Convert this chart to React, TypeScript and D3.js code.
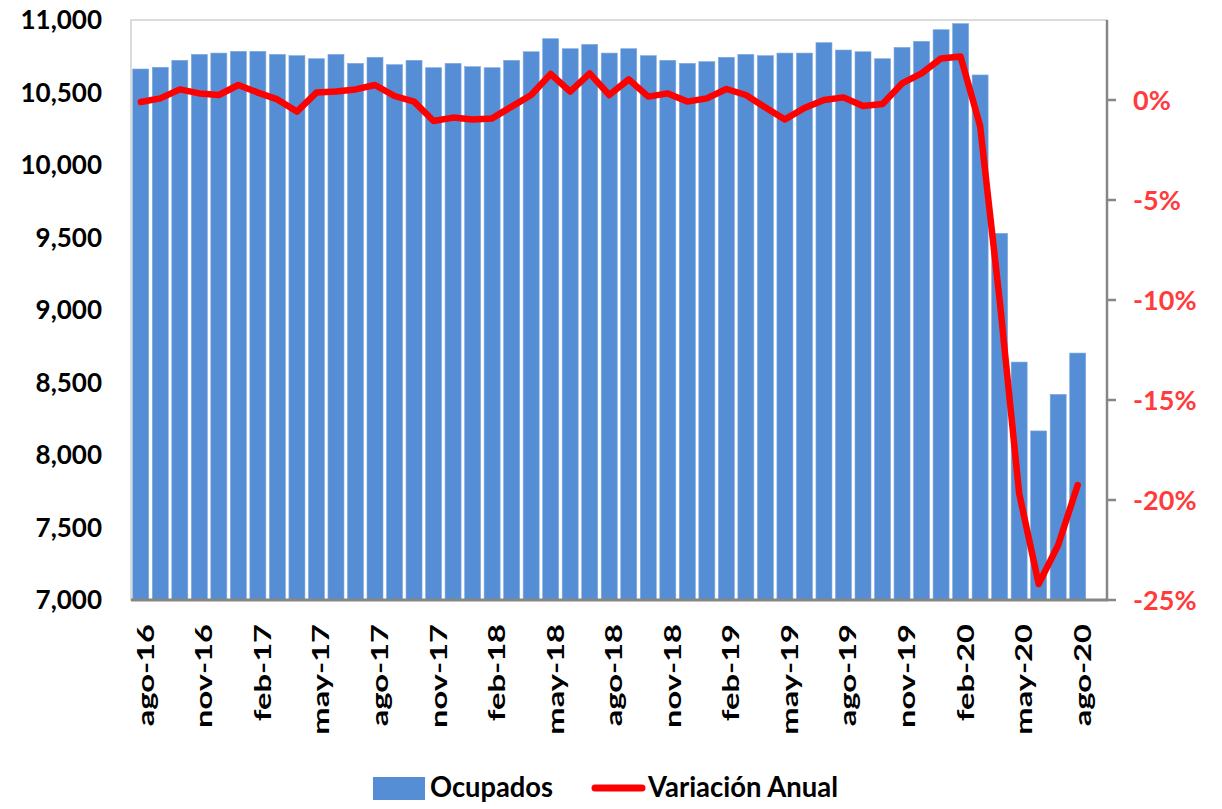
import React from "react";
import * as d3 from "d3";

const categories = [
  "ago-16","sep-16","oct-16","nov-16","dic-16","ene-17","feb-17","mar-17","abr-17","may-17","jun-17","jul-17",
  "ago-17","sep-17","oct-17","nov-17","dic-17","ene-18","feb-18","mar-18","abr-18","may-18","jun-18","jul-18",
  "ago-18","sep-18","oct-18","nov-18","dic-18","ene-19","feb-19","mar-19","abr-19","may-19","jun-19","jul-19",
  "ago-19","sep-19","oct-19","nov-19","dic-19","ene-20","feb-20","mar-20","abr-20","may-20","jun-20","jul-20",
  "ago-20",
];
// one empty slot after the last month (the axis extends one category further)
const axisSlots = [...categories, ""];
const labelCategories = [
  "ago-16","nov-16","feb-17","may-17","ago-17","nov-17","feb-18","may-18","ago-18",
  "nov-18","feb-19","may-19","ago-19","nov-19","feb-20","may-20","ago-20",
];

const ocupados = [
  10662,10674,10722,10763,10772,10784,10784,10763,10754,10733,10763,10701,
  10743,10692,10722,10671,10701,10678,10671,10722,10781,10871,10802,10832,
  10772,10802,10754,10722,10701,10713,10743,10763,10754,10772,10772,10844,
  10793,10781,10733,10811,10853,10933,10975,10621,9529,8641,8166,8418,
  8703,
];
const variacion = [
  -0.1,0.08,0.53,0.33,0.25,0.75,0.37,0.03,-0.58,0.37,0.42,0.53,
  0.75,0.2,-0.08,-1.05,-0.88,-0.97,-0.92,-0.33,0.25,1.3,0.42,1.33,
  0.25,1.03,0.17,0.33,-0.08,0.08,0.55,0.25,-0.37,-0.97,-0.4,0,
  0.13,-0.3,-0.2,0.83,1.33,2.08,2.17,-1.3,-10.0,-19.67,-24.2,-22.25,
  -19.25,
];
const leftTicks = [7000, 7500, 8000, 8500, 9000, 9500, 10000, 10500, 11000];
const rightTicks = [-25, -20, -15, -10, -5, 0];

const W = 1222;
const H = 809;
const L = 131;
const R = 1107;
const T = 20;
const B = 600;
const FONT = "Lato, 'Open Sans', sans-serif";
const BLUE = "#558ED5";
const RED = "#FF0000";

export default function App() {
  const x = d3.scaleBand<string>().domain(axisSlots).range([L, R]).paddingInner(0.18).paddingOuter(0.09);
  const yL = d3.scaleLinear().domain([7000, 11000]).range([B, T]);
  const yR = d3.scaleLinear().domain([-25, 4]).range([B, T]);
  const cx = (c: string) => (x(c) as number) + x.bandwidth() / 2;
  const fmt = d3.format(",");
  const line = d3
    .line<number>()
    .x((_, i) => cx(categories[i]))
    .y((d) => yR(d));

  return (
    <svg width={W} height={H} style={{ position: "absolute", left: 0, top: 0, background: "#fff" }}>
      <rect x={0} y={0} width={W} height={H} fill="#fff" />
      {/* plot border */}
      <rect x={L} y={T} width={R - L} height={B - T} fill="none" stroke="#D0D0D0" strokeWidth={1.5} />
      {/* bars */}
      {ocupados.map((v, i) => (
        <rect
          key={i}
          x={x(categories[i])}
          y={yL(v)}
          width={x.bandwidth()}
          height={B - yL(v)}
          fill={BLUE}
          stroke="#7FA9E0"
          strokeWidth={0.6}
        />
      ))}
      {/* axes */}
      <line x1={L} x2={R + 1} y1={B} y2={B} stroke="#868686" strokeWidth={3} />
      <line x1={R} x2={R} y1={T} y2={B + 1} stroke="#868686" strokeWidth={2.5} />
      {rightTicks.map((t) => (
        <line key={t} x1={R} x2={R + 9} y1={yR(t)} y2={yR(t)} stroke="#868686" strokeWidth={2.5} />
      ))}
      {/* line */}
      <path d={line(variacion) || ""} fill="none" stroke={RED} strokeWidth={6.5} strokeLinejoin="round" strokeLinecap="round" />
      {/* left tick labels */}
      {leftTicks.map((t) => (
        <text
          key={t}
          x={102}
          y={yL(t)}
          dy="0.36em"
          textAnchor="end"
          fontFamily={FONT}
          fontWeight={700}
          fontSize={26}
          fill="#000"
        >
          {fmt(t)}
        </text>
      ))}
      {/* right tick labels */}
      {rightTicks.map((t) => (
        <text
          key={t}
          x={1133}
          y={yR(t)}
          dy="0.36em"
          textAnchor="start"
          fontFamily={FONT}
          fontWeight={700}
          fontSize={27}
          fill="#FF3B3B"
        >
          {`${t}%`}
        </text>
      ))}
      {/* x labels */}
      {labelCategories.map((c) => (
        <text
          key={c}
          transform={`translate(${cx(c) + 13},624) rotate(-90) scale(1.42,1)`}
          textAnchor="end"
          fontFamily={FONT}
          fontWeight={700}
          fontSize={23}
          fill="#000"
        >
          {c}
        </text>
      ))}
      {/* legend */}
      <rect x={373} y={777} width={52} height={23} fill={BLUE} />
      <text x={430} y={797} fontFamily={FONT} fontWeight={700} fontSize={28} textLength={123} lengthAdjust="spacingAndGlyphs" fill="#000">
        Ocupados
      </text>
      <line x1={595} x2={642} y1={788} y2={788} stroke={RED} strokeWidth={7} strokeLinecap="round" />
      <text x={648} y={797} fontFamily={FONT} fontWeight={700} fontSize={28} textLength={190} lengthAdjust="spacingAndGlyphs" fill="#000">
        Variación Anual
      </text>
    </svg>
  );
}
